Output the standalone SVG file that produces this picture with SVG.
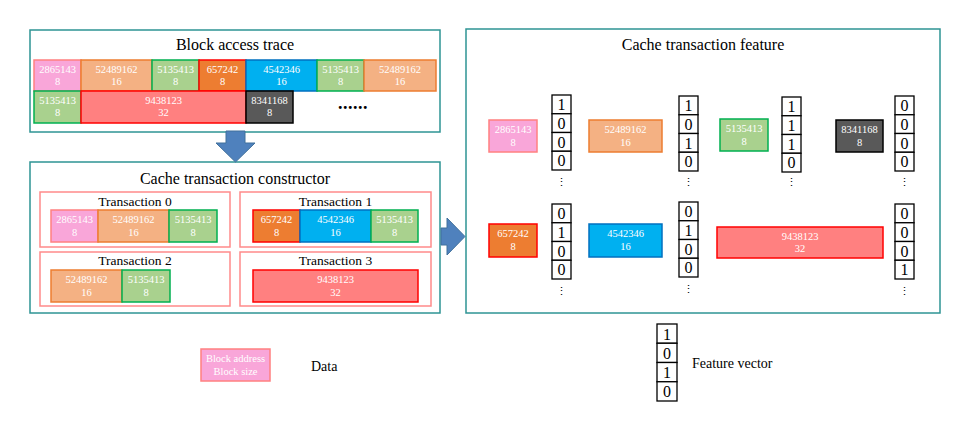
<svg xmlns="http://www.w3.org/2000/svg" width="968" height="428" viewBox="0 0 968 428">
<style>
.panel{fill:#fff;stroke:#2e9494;stroke-width:1.5}
.tx{fill:#fff;stroke:#ff8a8a;stroke-width:1.5}
.t{font-family:"Liberation Serif","Times New Roman",serif;fill:#000}
.title{font-size:16px}
.sub{font-size:13.5px}
.bt{font-family:"Liberation Serif","Times New Roman",serif;font-size:10.5px;fill:#fff;text-anchor:middle}
.pink{fill:#f9a6d9;stroke:#ff8080;stroke-width:1.5}
.peach{fill:#f4b183;stroke:#ed7d31;stroke-width:1.5}
.green{fill:#a9d18e;stroke:#00b050;stroke-width:1.5}
.orange{fill:#ed7d31;stroke:#ff0000;stroke-width:1.5}
.blue{fill:#00b0f0;stroke:#0070c0;stroke-width:1.5}
.red{fill:#ff8080;stroke:#ff0000;stroke-width:1.5}
.dark{fill:#595959;stroke:#000;stroke-width:1.5}
.cell{fill:#fff;stroke:#000;stroke-width:1.3}
.vn{font-family:"Liberation Serif","Times New Roman",serif;font-size:16px;fill:#000;text-anchor:middle}
.vd{font-family:"DejaVu Serif","Liberation Serif",serif;font-size:11px;fill:#000;text-anchor:middle}
.arrow{fill:#4f81bd;stroke:#41719c;stroke-width:1}
</style>
<defs>
<g id="vcells">
<rect class="cell" x="0" y="0" width="19" height="18.75"/>
<rect class="cell" x="0" y="18.75" width="19" height="18.75"/>
<rect class="cell" x="0" y="37.5" width="19" height="18.75"/>
<rect class="cell" x="0" y="56.25" width="19" height="18.75"/>
</g>
</defs>
<rect width="968" height="428" fill="#fff"/>

<g id="trace">
<rect class="panel" x="30" y="30" width="410" height="102"/>
<text class="t title" x="235" y="50" text-anchor="middle">Block access trace</text>
<rect class="pink" x="34" y="60" width="47" height="31"/><text class="bt" x="57.5" y="73">2865143</text><text class="bt" x="57.5" y="85">8</text>
<rect class="peach" x="81" y="60" width="71" height="31"/><text class="bt" x="116.5" y="73">52489162</text><text class="bt" x="116.5" y="85">16</text>
<rect class="green" x="152" y="60" width="47" height="31"/><text class="bt" x="175.5" y="73">5135413</text><text class="bt" x="175.5" y="85">8</text>
<rect class="orange" x="199" y="60" width="47" height="31"/><text class="bt" x="222.5" y="73">657242</text><text class="bt" x="222.5" y="85">8</text>
<rect class="blue" x="246" y="60" width="71" height="31"/><text class="bt" x="281.5" y="73">4542346</text><text class="bt" x="281.5" y="85">16</text>
<rect class="green" x="317" y="60" width="47" height="31"/><text class="bt" x="340.5" y="73">5135413</text><text class="bt" x="340.5" y="85">8</text>
<rect class="peach" x="364" y="60" width="72" height="31"/><text class="bt" x="400" y="73">52489162</text><text class="bt" x="400" y="85">16</text>
<rect class="green" x="34" y="91" width="47" height="32"/><text class="bt" x="57.5" y="104">5135413</text><text class="bt" x="57.5" y="116">8</text>
<rect class="red" x="81" y="91" width="165" height="32"/><text class="bt" x="163.5" y="104">9438123</text><text class="bt" x="163.5" y="116">32</text>
<rect class="dark" x="246" y="91" width="47" height="32"/><text class="bt" x="269.5" y="104">8341168</text><text class="bt" x="269.5" y="116">8</text>
<text class="t" x="353" y="109" font-size="18" font-weight="bold" text-anchor="middle" letter-spacing="0.5">......</text>
</g>

<g id="constructor">
<rect class="panel" x="30" y="162" width="410" height="151"/>
<text class="t title" x="235" y="184" text-anchor="middle">Cache transaction constructor</text>
<g id="tx0">
<rect class="tx" x="40" y="192" width="190" height="55"/>
<text class="t sub" x="135" y="206" text-anchor="middle">Transaction 0</text>
<rect class="pink" x="51" y="210" width="47" height="32"/><text class="bt" x="74.5" y="223">2865143</text><text class="bt" x="74.5" y="236">8</text>
<rect class="peach" x="98" y="210" width="71" height="32"/><text class="bt" x="133.5" y="223">52489162</text><text class="bt" x="133.5" y="236">16</text>
<rect class="green" x="169" y="210" width="48" height="32"/><text class="bt" x="193" y="223">5135413</text><text class="bt" x="193" y="236">8</text>
</g>
<g id="tx1">
<rect class="tx" x="240" y="192" width="191" height="55"/>
<text class="t sub" x="335.5" y="206" text-anchor="middle">Transaction 1</text>
<rect class="orange" x="253" y="210" width="47" height="32"/><text class="bt" x="276.5" y="223">657242</text><text class="bt" x="276.5" y="236">8</text>
<rect class="blue" x="300" y="210" width="71" height="32"/><text class="bt" x="335.5" y="223">4542346</text><text class="bt" x="335.5" y="236">16</text>
<rect class="green" x="371" y="210" width="47" height="32"/><text class="bt" x="394.5" y="223">5135413</text><text class="bt" x="394.5" y="236">8</text>
</g>
<g id="tx2">
<rect class="tx" x="40" y="252" width="190" height="54"/>
<text class="t sub" x="135" y="265" text-anchor="middle">Transaction 2</text>
<rect class="peach" x="51" y="270" width="71" height="32"/><text class="bt" x="86.5" y="283">52489162</text><text class="bt" x="86.5" y="296">16</text>
<rect class="green" x="122" y="270" width="48" height="32"/><text class="bt" x="146" y="283">5135413</text><text class="bt" x="146" y="296">8</text>
</g>
<g id="tx3">
<rect class="tx" x="240" y="252" width="191" height="54"/>
<text class="t sub" x="335.5" y="265" text-anchor="middle">Transaction 3</text>
<rect class="red" x="253" y="270" width="165" height="32"/><text class="bt" x="335.5" y="283">9438123</text><text class="bt" x="335.5" y="296">32</text>
</g>
</g>

<g id="feature">
<rect class="panel" x="466" y="29" width="474" height="284"/>
<text class="t title" x="703" y="50" text-anchor="middle">Cache transaction feature</text>
<rect class="pink" x="489" y="120" width="48" height="32"/><text class="bt" x="513" y="133">2865143</text><text class="bt" x="513" y="146">8</text>
<rect class="peach" x="589" y="120" width="73" height="32"/><text class="bt" x="625.5" y="133">52489162</text><text class="bt" x="625.5" y="146">16</text>
<rect class="green" x="720" y="119" width="48" height="32"/><text class="bt" x="744" y="132">5135413</text><text class="bt" x="744" y="145">8</text>
<rect class="dark" x="836" y="120" width="47" height="32"/><text class="bt" x="859.5" y="133">8341168</text><text class="bt" x="859.5" y="146">8</text>
<rect class="orange" x="489" y="224" width="48" height="33"/><text class="bt" x="513" y="237">657242</text><text class="bt" x="513" y="250">8</text>
<rect class="blue" x="589" y="224" width="73" height="33"/><text class="bt" x="625.5" y="237">4542346</text><text class="bt" x="625.5" y="250">16</text>
<rect class="red" x="717" y="227" width="166" height="31"/><text class="bt" x="800" y="240">9438123</text><text class="bt" x="800" y="252">32</text>

<g id="vec1" transform="translate(552,95)"><use href="#vcells"/><text class="vn" x="9.5" y="15">1</text><text class="vn" x="9.5" y="33.75">0</text><text class="vn" x="9.5" y="52.5">0</text><text class="vn" x="9.5" y="71.25">0</text><text class="vd" x="9.5" y="91">⋮</text></g>
<g id="vec2" transform="translate(679,96)"><use href="#vcells"/><text class="vn" x="9.5" y="15">1</text><text class="vn" x="9.5" y="33.75">0</text><text class="vn" x="9.5" y="52.5">1</text><text class="vn" x="9.5" y="71.25">0</text><text class="vd" x="9.5" y="90">⋮</text></g>
<g id="vec3" transform="translate(782,97)"><use href="#vcells"/><text class="vn" x="9.5" y="15">1</text><text class="vn" x="9.5" y="33.75">1</text><text class="vn" x="9.5" y="52.5">1</text><text class="vn" x="9.5" y="71.25">0</text><text class="vd" x="9.5" y="89">⋮</text></g>
<g id="vec4" transform="translate(895,96)"><use href="#vcells"/><text class="vn" x="9.5" y="15">0</text><text class="vn" x="9.5" y="33.75">0</text><text class="vn" x="9.5" y="52.5">0</text><text class="vn" x="9.5" y="71.25">0</text><text class="vd" x="9.5" y="90">⋮</text></g>
<g id="vec5" transform="translate(552,204)"><use href="#vcells"/><text class="vn" x="9.5" y="15">0</text><text class="vn" x="9.5" y="33.75">1</text><text class="vn" x="9.5" y="52.5">0</text><text class="vn" x="9.5" y="71.25">0</text><text class="vd" x="9.5" y="91">⋮</text></g>
<g id="vec6" transform="translate(679,202)"><use href="#vcells"/><text class="vn" x="9.5" y="15">0</text><text class="vn" x="9.5" y="33.75">1</text><text class="vn" x="9.5" y="52.5">0</text><text class="vn" x="9.5" y="71.25">0</text><text class="vd" x="9.5" y="91">⋮</text></g>
<g id="vec7" transform="translate(895,204)"><use href="#vcells"/><text class="vn" x="9.5" y="15">0</text><text class="vn" x="9.5" y="33.75">0</text><text class="vn" x="9.5" y="52.5">0</text><text class="vn" x="9.5" y="71.25">1</text><text class="vd" x="9.5" y="91">⋮</text></g>
</g>

<g id="connectors">
<polygon class="arrow" points="226,131 245,131 245,143 255,143 235.5,162 216,143 226,143"/>
<polygon class="arrow" points="441,228 447,228 447,218 465,236.5 447,255 447,245 441,245"/>
</g>

<g id="legend-data">
<rect class="pink" x="201" y="349" width="69" height="32"/>
<text class="bt" x="235.5" y="362">Block address</text>
<text class="bt" x="235.5" y="375">Block size</text>
<text class="t" x="311" y="371" font-size="14">Data</text>
</g>
<g id="legend-vector">
<g transform="translate(657,324)">
<rect class="cell" x="0" y="0" width="20" height="19.25"/>
<rect class="cell" x="0" y="19.25" width="20" height="19.25"/>
<rect class="cell" x="0" y="38.5" width="20" height="19.25"/>
<rect class="cell" x="0" y="57.75" width="20" height="19.25"/>
<text class="vn" x="10" y="15.5">1</text><text class="vn" x="10" y="34.75">0</text><text class="vn" x="10" y="54">1</text><text class="vn" x="10" y="73.25">0</text>
</g>
<text class="t" x="692" y="368" font-size="14">Feature vector</text>
</g>
</svg>
